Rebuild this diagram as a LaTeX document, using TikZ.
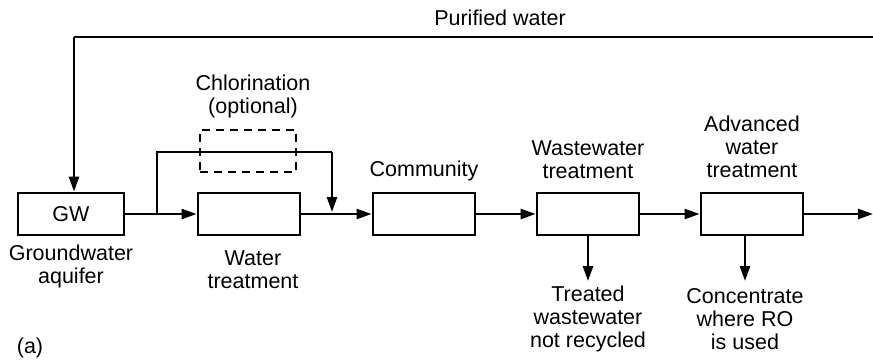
\documentclass[tikz,border=0pt]{standalone}
\usepackage{fontspec}
\setmainfont{Liberation Sans}
\usetikzlibrary{arrows.meta, positioning}
\tikzset{
  unitbox/.style={rectangle, draw, line width=2.8pt, minimum width=102pt, minimum height=42pt, inner sep=0pt},
  dashbox/.style={rectangle, draw, dashed, dash pattern=on 8pt off 6pt, line width=2.5pt, minimum width=96pt, minimum height=42pt},
  caption/.style={align=center, inner sep=0pt, font=\fontsize{21.5}{23}\selectfont},
  flow/.style={draw, line width=2.5pt, -{Triangle[length=15pt, width=10pt]}},
  pipe/.style={draw, line width=2.5pt},
}
\begin{document}
\begin{tikzpicture}[x=1pt, y=-1pt, font=\fontsize{21.5}{23}\selectfont]
\useasboundingbox (0,0) rectangle (873,360);
% process units
\node[unitbox, minimum width=106pt] (gw) at (71,214) {GW};
\node[unitbox] (wtp) at (249,214) {};
\node[unitbox] (comm) at (424,214) {};
\node[unitbox] (wwtp) at (588,214) {};
\node[unitbox] (awt) at (752,214) {};
\node[dashbox] (chl) at (248,151) {};
% labels
\node[caption] (gwlab) at (71,266) {Groundwater\\aquifer};
\node[caption] (wtplab) at (253,270) {Water\\treatment};
\node[caption] (chllab) at (253,96) {Chlorination\\(optional)};
\node[caption] (commlab) at (424,171) {Community};
\node[caption] (wwtplab) at (588,160) {Wastewater\\treatment};
\node[caption] (awtlab) at (752,147) {Advanced\\water\\treatment};
\node[caption] (wwout) at (588,319) {Treated\\wastewater\\not recycled};
\node[caption] (roout) at (745,319) {Concentrate\\where RO\\is used};
\node[caption] (purlab) at (500,18) {Purified water};
\node[caption] (tag) at (30,348) {(a)};
% free ends and bends
\coordinate (topR) at (873,37);
\coordinate (topL) at (74,37);
\coordinate (outR) at (873,214);
\coordinate (split) at (157,214);
\coordinate (splitT) at (157,152);
\coordinate (joinT) at (332,152);
\coordinate (join) at (332,212);
\coordinate (wwdrop) at (588,281);
\coordinate (rodrop) at (745,281);
% connectors
\draw[pipe] (topR) -- (topL);
\draw[flow] (topL) -- (topL |- gw.north);
\draw[flow] (gw.east) -- (wtp.west);
\draw[pipe] (split) -- (splitT) -- (joinT);
\draw[flow] (joinT) -- (join);
\draw[flow] (wtp.east) -- (comm.west);
\draw[flow] (comm.east) -- (wwtp.west);
\draw[flow] (wwtp.east) -- (awt.west);
\draw[flow] (awt.east) -- (outR);
\draw[flow] (wwtp.south) -- (wwdrop);
\draw[flow] (awt.south -| rodrop) -- (rodrop);
\end{tikzpicture}
\end{document}
